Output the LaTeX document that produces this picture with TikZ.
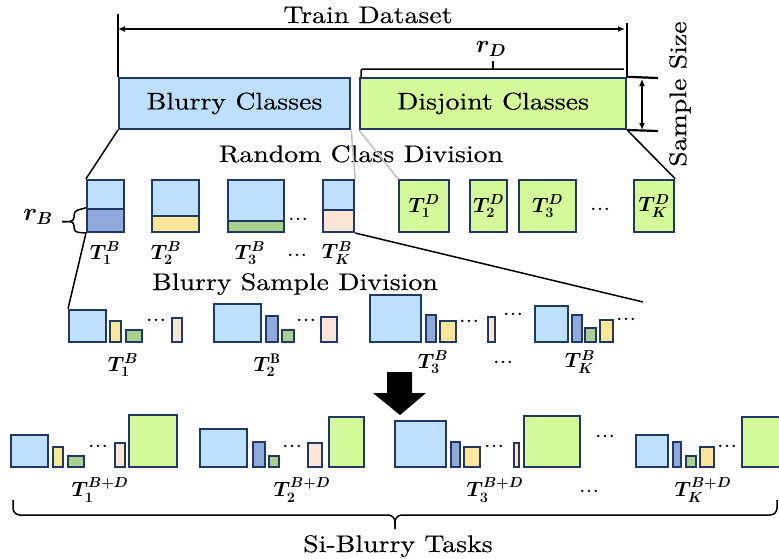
\documentclass[tikz,border=0pt]{standalone}
\usepackage{amsmath,bm}
\usepackage{fontspec}
\newfontfamily\widerm{lmroman10-regular.otf}[FakeStretch=1.16,FakeBold=0.3]
\usetikzlibrary{arrows.meta}

\definecolor{navy}{RGB}{31,56,100}
\definecolor{lblue}{RGB}{189,224,254}
\definecolor{dblue}{RGB}{142,169,219}
\definecolor{lyel}{RGB}{255,230,153}
\definecolor{lgrn}{RGB}{169,209,142}
\definecolor{peach}{RGB}{252,228,214}
\definecolor{lime}{RGB}{213,250,152}

\begin{document}
\begin{tikzpicture}[
  x=1pt,y=-1pt,
  txt/.style={font=\widerm\fontsize{24}{29}\selectfont},
  lbl/.style={font=\fontsize{20}{24}\selectfont,inner sep=0pt},
  dts/.style={font=\widerm\fontsize{21}{24}\selectfont,anchor=base,inner sep=0pt},
  box/.style={draw=navy,line width=2.2pt,inner sep=0pt,anchor=south west},
  sz/.style 2 args={minimum width=#1pt,minimum height=#2pt},
  dim/.style={line width=2.2pt,draw=black},
  dimarr/.style={line width=1.3pt,draw=black,{Latex[length=7pt,width=6pt]}-{Latex[length=7pt,width=6pt]}},
  brk/.style={line width=1.5pt,draw=black},
  ln/.style={line width=1.5pt,draw=black},
  gln/.style={line width=1.5pt,draw=black!25}
]
\clip (0,0) rectangle (779,558);

% ---- train dataset ----
\node[box,fill=lblue,sz={231}{51},txt] (blurry) at (118,130) {Blurry Classes};
\node[box,fill=lime,sz={266}{51},txt] (disj) at (359,130) {Disjoint Classes};
\node[txt,anchor=base] (train) at (368,23) {Train Dataset};
\coordinate (dsL) at (118,14);
\coordinate (dsR) at (625,23);
\coordinate (aL) at (118,29);
\coordinate (aR) at (625,29);
\draw[dim] (blurry.north west) -- (blurry.north west |- dsL);
\draw[dim] (disj.north east) -- (disj.north east |- dsR);
\draw[dimarr] (aL) -- (aR);

% ---- r_D ----
\draw[brk,rounded corners=2pt] (361,78) |- (624,69);
\draw[brk] (493,69) -- (493,61);
\node[lbl,font=\fontsize{23}{26}\selectfont] (rD) at (491,49) {$\bm{r_D}$};

% ---- sample size ----
\coordinate (s1) at (658,78);
\coordinate (s2) at (658,131);
\coordinate (sa1) at (642,79);
\coordinate (sa2) at (642,130);
\draw[dim] (disj.north east) -- (s1);
\draw[dim] (disj.south east) -- (s2);
\draw[dimarr] (sa1) -- (sa2);
\node[txt,rotate=90] (ssz) at (680,94) {Sample Size};

\node[txt,anchor=base] (rcd) at (361,162) {Random Class Division};

% ---- blurry tasks ----
\node[box,fill=lblue,sz={37}{29}] (tb1t) at (86,210) {};
\node[box,fill=dblue,sz={37}{23}] (tb1b) at (86,233) {};
\node[box,fill=lblue,sz={47}{36}] (tb2t) at (151,217) {};
\node[box,fill=lyel,sz={47}{16}] (tb2b) at (151,233) {};
\node[box,fill=lblue,sz={56}{41}] (tb3t) at (227,222) {};
\node[box,fill=lgrn,sz={56}{11}] (tb3b) at (227,233) {};
\node[box,fill=lblue,sz={31}{30}] (tbKt) at (322,211) {};
\node[box,fill=peach,sz={31}{22}] (tbKb) at (322,233) {};
\node[dts] (d1) at (298,220) {...};
\node[lbl] (lb1) at (105,253) {$\bm{T_1^B}$};
\node[lbl] (lb2) at (166,253) {$\bm{T_2^B}$};
\node[lbl] (lb3) at (250,253) {$\bm{T_3^B}$};
\node[dts] (d2) at (297,256) {...};
\node[lbl] (lbK) at (337,253) {$\bm{T_K^B}$};

% ---- r_B ----
\draw[brk,rounded corners=4pt] (tb1b.north west) -- (74,211) -- (74,221.5) -- (62,221.5);
\draw[brk,rounded corners=4pt] (tb1b.south west) -- (74,232) -- (74,221.5) -- (62,221.5);
\node[lbl,font=\fontsize{23}{26}\selectfont] (rB) at (38,217) {$\bm{r_B}$};

% ---- disjoint tasks ----
\node[box,fill=lime,sz={50}{52},lbl,font=\fontsize{22}{26}\selectfont] (td1) at (398,233) {$\bm{T_1^D}$};
\node[box,fill=lime,sz={37}{52},lbl,font=\fontsize{22}{26}\selectfont] (td2) at (469,233) {$\bm{T_2^D}$};
\node[box,fill=lime,sz={57}{52},lbl,font=\fontsize{22}{26}\selectfont] (td3) at (518,233) {$\bm{T_3^D}$};
\node[dts] (d3) at (600,210) {...};
\node[box,fill=lime,sz={40}{52},lbl,font=\fontsize{22}{26}\selectfont] (tdK) at (633,233) {$\bm{T_K^D}$};

\draw[ln] (blurry.south west) -- (tb1t.north west);
\draw[gln] (blurry.south east) -- (tbKt.north east);
\draw[gln] (disj.south west) -- (td1.north west);
\draw[ln] (disj.south east) -- (tdK.north east);

\node[txt,anchor=base] (bsd) at (295,290) {Blurry Sample Division};

% ---- blurry sample division ----
\node[box,fill=lblue,sz={37}{32}] (g1a) at (68,343) {};
\node[box,fill=lyel,sz={11}{21}] (g1b) at (109,343) {};
\node[box,fill=lgrn,sz={16}{12}] (g1c) at (125,343) {};
\node[dts] (d4) at (156,321) {...};
\node[box,fill=peach,sz={10}{24}] (g1d) at (171,343) {};
\node[lbl] (lg1) at (123,365) {$\bm{T_1^B}$};

\node[box,fill=lblue,sz={47}{38}] (g2a) at (213,343) {};
\node[box,fill=dblue,sz={12}{26}] (g2b) at (265,343) {};
\node[box,fill=lgrn,sz={12}{12}] (g2c) at (281,343) {};
\node[dts] (d5) at (306,321) {...};
\node[box,fill=peach,sz={16}{25}] (g2d) at (320,343) {};
\node[lbl] (lg2) at (267,365) {$\bm{T_2^{\mathrm{B}}}$};

\node[box,fill=lblue,sz={51}{47}] (g3a) at (369,343) {};
\node[box,fill=dblue,sz={10}{27}] (g3b) at (425,343) {};
\node[box,fill=lyel,sz={16}{21}] (g3c) at (439,343) {};
\node[dts] (d6) at (469,322) {...};
\node[box,fill=peach,sz={7}{25}] (g3d) at (487,343) {};
\node[lbl] (lg3) at (433,362) {$\bm{T_3^B}$};

\node[dts] (d7) at (513,315) {...};
\node[dts] (d8) at (503,363) {...};

\node[box,fill=lblue,sz={33}{36}] (gKa) at (534,343) {};
\node[box,fill=dblue,sz={10}{27}] (gKb) at (571,343) {};
\node[box,fill=lgrn,sz={11}{14}] (gKc) at (584,343) {};
\node[box,fill=lyel,sz={13}{22}] (gKd) at (599,343) {};
\node[dts] (d9) at (626,320) {...};
\node[lbl] (lgK) at (580,362) {$\bm{T_K^B}$};

\coordinate (gend) at (643,302);
\draw[ln] (tb1b.south west) -- (g1a.north west);
\draw[ln] (tbKb.south east) -- (gend);

% ---- big arrow ----
\fill[black] (387,372) -- (412,372) -- (412,393) -- (426,393) -- (400,415)
  -- (373,393) -- (387,393) -- cycle;

% ---- si-blurry tasks ----
\node[box,fill=lblue,sz={37}{32}] (h1a) at (10,468) {};
\node[box,fill=lyel,sz={10}{20}] (h1b) at (52,468) {};
\node[box,fill=lgrn,sz={16}{11}] (h1c) at (67,468) {};
\node[dts] (d10) at (98,447) {...};
\node[box,fill=peach,sz={10}{24}] (h1d) at (114,468) {};
\node[box,fill=lime,sz={48}{52}] (h1e) at (128,468) {};
\node[lbl] (lh1) at (100,490) {$\bm{T_1^{B+D}}$};

\node[box,fill=lblue,sz={47}{38}] (h2a) at (199,468) {};
\node[box,fill=dblue,sz={12}{25}] (h2b) at (252,468) {};
\node[box,fill=lgrn,sz={10}{11}] (h2c) at (268,468) {};
\node[dts] (d11) at (292,447) {...};
\node[box,fill=peach,sz={14}{24}] (h2d) at (307,468) {};
\node[box,fill=lime,sz={35}{50}] (h2e) at (328,468) {};
\node[lbl] (lh2) at (302,490) {$\bm{T_2^{B+D}}$};

\node[box,fill=lblue,sz={51}{46}] (h3a) at (394,468) {};
\node[box,fill=dblue,sz={9}{25}] (h3b) at (450,468) {};
\node[box,fill=lyel,sz={16}{20}] (h3c) at (463,468) {};
\node[dts] (d12) at (494,447) {...};
\node[box,fill=peach,sz={5}{24}] (h3d) at (513,468) {};
\node[box,fill=lime,sz={56}{51}] (h3e) at (523,468) {};
\node[lbl] (lh3) at (495,490) {$\bm{T_3^{B+D}}$};

\node[dts] (d13) at (605,437) {...};
\node[dts] (d14) at (589,492) {...};

\node[box,fill=lblue,sz={32}{32}] (hKa) at (635,468) {};
\node[box,fill=dblue,sz={8}{25}] (hKb) at (672,468) {};
\node[box,fill=lgrn,sz={10}{11}] (hKc) at (685,468) {};
\node[box,fill=lyel,sz={14}{20}] (hKd) at (699,468) {};
\node[dts] (d15) at (727,447) {...};
\node[box,fill=lime,sz={50}{50}] (hKe) at (741,468) {};
\node[lbl] (lhK) at (703,490) {$\bm{T_K^{B+D}}$};

% ---- brace ----
\draw[brk,rounded corners=7pt] (13,500) -- (13,515) -- (395,515) -- (395,529);
\draw[brk,rounded corners=7pt] (777,500) -- (777,515) -- (395,515) -- (395,529);
\node[txt,anchor=base] (sbt) at (398,552) {Si-Blurry Tasks};

\end{tikzpicture}
\end{document}
